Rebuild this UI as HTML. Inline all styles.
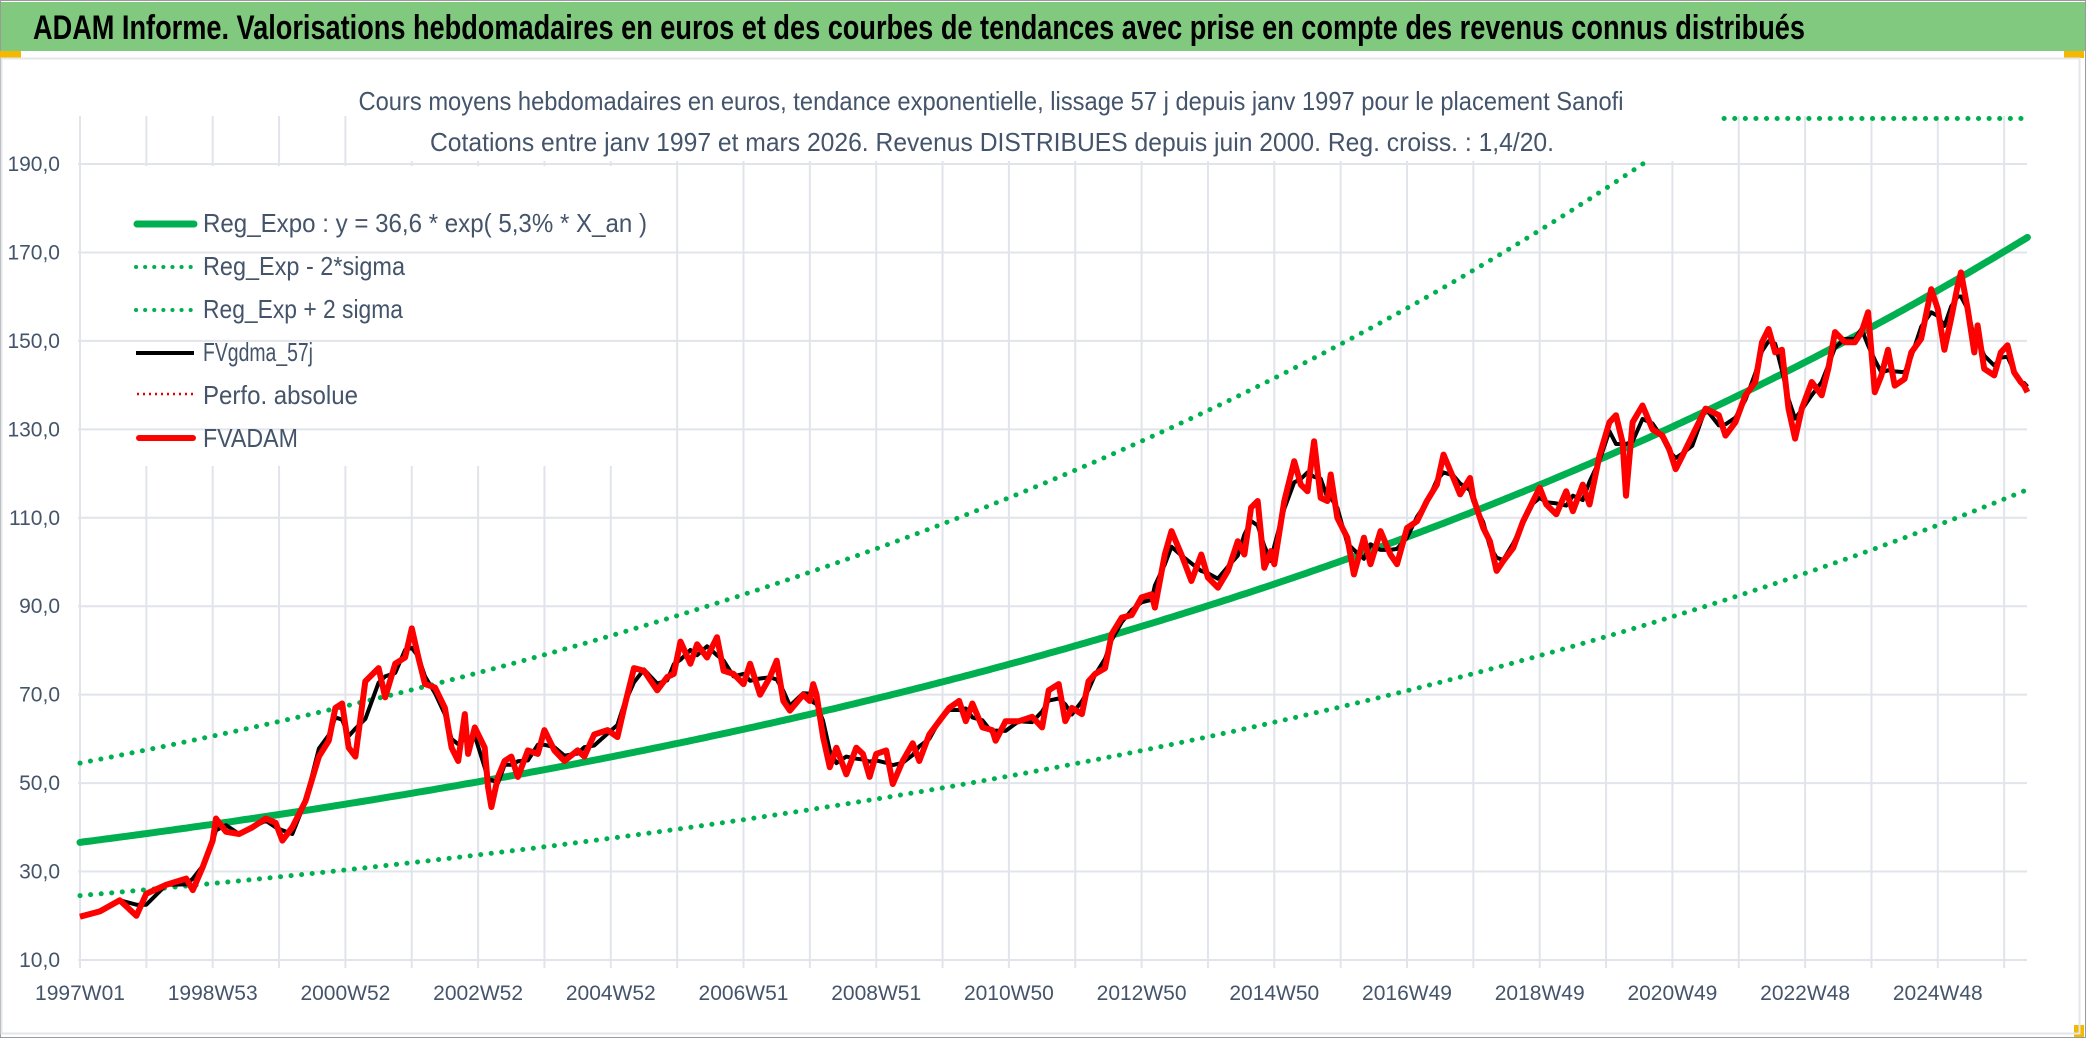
<!DOCTYPE html>
<html><head><meta charset="utf-8"><style>
html,body{margin:0;padding:0;background:#fff;}
svg{display:block;font-family:"Liberation Sans Narrow","Liberation Sans",sans-serif;}
</style></head><body>
<svg id="chart" width="2086" height="1038" viewBox="0 0 2086 1038">
<rect x="0" y="0" width="2086" height="1038" fill="#ffffff"/>
<rect x="0.5" y="0.5" width="2085" height="1037" fill="none" stroke="#9a9a9a"/>
<rect x="1" y="2" width="2084" height="49" fill="#80c97f"/>
<text x="33" y="39" font-size="34" font-weight="bold" fill="#000" textLength="1772" lengthAdjust="spacingAndGlyphs">ADAM Informe. Valorisations hebdomadaires en euros et des courbes de tendances avec prise en compte des revenus connus distribués</text>
<rect x="0" y="51" width="21" height="7" fill="#f5b800"/>
<rect x="2064" y="51" width="20" height="7" fill="#f5b800"/>
<rect x="2074" y="1025" width="10" height="12" fill="#f5b800"/>
<rect x="1.5" y="58.5" width="2078" height="975" fill="none" stroke="#e3e6ea" stroke-width="2"/>
<g id="grid"></g>
<g id="series"></g>
<rect x="364" y="64" width="1352" height="97" fill="#fff"/>
<text x="991" y="110" font-size="26" fill="#44546a" text-anchor="middle" textLength="1265" lengthAdjust="spacingAndGlyphs">Cours moyens hebdomadaires en euros, tendance exponentielle, lissage 57 j depuis janv 1997 pour le placement Sanofi</text>
<text x="992" y="151" font-size="26" fill="#44546a" text-anchor="middle" textLength="1124" lengthAdjust="spacingAndGlyphs">Cotations entre janv 1997 et mars 2026. Revenus DISTRIBUES depuis juin 2000. Reg. croiss. : 1,4/20.</text>
<g id="axes"></g>
<g id="legend">
 <g>
  <line x1="137" y1="224" x2="194" y2="224" stroke="#00b050" stroke-width="7" stroke-linecap="round"/>
  <text x="203" y="232" font-size="26" fill="#44546a" textLength="444" lengthAdjust="spacingAndGlyphs">Reg_Expo : y = 36,6 * exp( 5,3% *  X_an )</text>
 </g>
 <g>
  <line x1="136" y1="267" x2="194" y2="267" stroke="#00b050" stroke-width="4" stroke-dasharray="0.1 9" stroke-linecap="round"/>
  <text x="203" y="275" font-size="26" fill="#44546a" textLength="202" lengthAdjust="spacingAndGlyphs">Reg_Exp - 2*sigma</text>
 </g>
 <g>
  <line x1="136" y1="310" x2="194" y2="310" stroke="#00b050" stroke-width="4" stroke-dasharray="0.1 9" stroke-linecap="round"/>
  <text x="203" y="318" font-size="26" fill="#44546a" textLength="200" lengthAdjust="spacingAndGlyphs">Reg_Exp + 2 sigma</text>
 </g>
 <g>
  <line x1="136" y1="353" x2="194" y2="353" stroke="#000" stroke-width="4"/>
  <text x="203" y="361" font-size="26" fill="#44546a" textLength="110" lengthAdjust="spacingAndGlyphs">FVgdma_57j</text>
 </g>
 <g>
  <line x1="137" y1="394" x2="194" y2="394" stroke="#e00000" stroke-width="2.5" stroke-dasharray="2 4"/>
  <text x="203" y="404" font-size="26" fill="#44546a" textLength="155" lengthAdjust="spacingAndGlyphs">Perfo. absolue</text>
 </g>
 <g>
  <line x1="139" y1="438" x2="193" y2="438" stroke="#ff0000" stroke-width="6" stroke-linecap="round"/>
  <text x="203" y="447" font-size="26" fill="#44546a" textLength="95" lengthAdjust="spacingAndGlyphs">FVADAM</text>
 </g>
</g>
</svg>
<script>
// ---- data ----
const yTicks = [10,30,50,70,90,110,130,150,170,190];
const xTickLabels = ["1997W01","1998W53","2000W52","2002W52","2004W52","2006W51","2008W51","2010W50","2012W50","2014W50","2016W49","2018W49","2020W49","2022W48","2024W48"];
const regA = 36.6;
const regB = 0.053;
const sigmaFactor = 1.49;
const years = [1997.0,1997.3,1997.6,1997.85,1998.0,1998.3,1998.6,1998.7,1998.85,1999.0,1999.05,1999.2,1999.4,1999.6,1999.8,1999.95,2000.05,2000.2,2000.4,2000.6,2000.75,2000.85,2000.95,2001.05,2001.15,2001.3,2001.5,2001.6,2001.75,2001.9,2002.0,2002.1,2002.2,2002.35,2002.5,2002.6,2002.7,2002.8,2002.85,2002.95,2003.1,2003.15,2003.2,2003.3,2003.4,2003.5,2003.6,2003.75,2003.9,2004.0,2004.15,2004.3,2004.5,2004.6,2004.75,2004.95,2005.1,2005.2,2005.35,2005.5,2005.7,2005.85,2005.95,2006.05,2006.2,2006.3,2006.45,2006.6,2006.7,2006.85,2007.0,2007.1,2007.25,2007.4,2007.5,2007.6,2007.7,2007.9,2008.0,2008.05,2008.1,2008.2,2008.3,2008.4,2008.55,2008.7,2008.8,2008.9,2009.0,2009.15,2009.25,2009.4,2009.55,2009.65,2009.8,2009.95,2010.1,2010.25,2010.35,2010.45,2010.6,2010.75,2010.8,2010.95,2011.15,2011.35,2011.5,2011.6,2011.75,2011.85,2011.95,2012.1,2012.2,2012.3,2012.45,2012.55,2012.7,2012.85,2013.0,2013.15,2013.2,2013.35,2013.45,2013.6,2013.75,2013.9,2014.0,2014.15,2014.3,2014.45,2014.55,2014.65,2014.75,2014.85,2014.95,2015.0,2015.15,2015.3,2015.4,2015.5,2015.6,2015.7,2015.8,2015.85,2015.95,2016.1,2016.2,2016.35,2016.45,2016.6,2016.75,2016.85,2017.0,2017.15,2017.3,2017.45,2017.55,2017.7,2017.8,2017.95,2018.0,2018.15,2018.25,2018.35,2018.45,2018.6,2018.75,2018.9,2019.0,2019.1,2019.25,2019.4,2019.5,2019.65,2019.75,2019.9,2020.05,2020.15,2020.25,2020.3,2020.4,2020.55,2020.7,2020.85,2020.95,2021.05,2021.15,2021.3,2021.5,2021.7,2021.8,2021.95,2022.1,2022.25,2022.35,2022.45,2022.55,2022.65,2022.75,2022.85,2022.95,2023.1,2023.25,2023.35,2023.45,2023.6,2023.75,2023.85,2023.95,2024.05,2024.15,2024.25,2024.35,2024.5,2024.6,2024.75,2024.9,2025.0,2025.1,2025.2,2025.3,2025.35,2025.45,2025.55,2025.6,2025.7,2025.85,2025.95,2026.05,2026.15,2026.25,2026.3,2026.35];
const fvadam = [19.8,21,23.5,20,25,27,28.4,25.8,31,37,42,39,38.5,40,42,41,37,40,46,56,59.6,67,68,58,56,73,76,69.4,77,78.4,85,78.4,72.4,71.6,67,58,55,65.6,56.6,62.6,58,49,44.6,51.4,55,56,51.4,57.4,56.6,62,57.4,55,57.4,56,61,62,60.4,67,76,75.4,71,74,74.7,82,77,81.4,78.4,83,75.4,74.7,72.4,77,70,74,77.7,68.6,66.4,70,68.6,72.4,70,60.4,53.6,58,52,58,56.6,51.4,56.6,57.4,49.8,55,59,55,61,64,67,68.6,64,68,62.6,62,59.6,64,64,65,62.6,71,72.4,64,67,65.6,73,74.7,76,83.7,87.4,88,92,92.7,89.7,101.7,107,101.7,95.7,101.7,96.5,94.2,98,104.7,101.7,112.3,113.8,98.7,102.5,99.5,113.8,122.8,117.5,116,127.3,114.5,113.8,119.8,110,105.5,97.2,105.5,99.5,107,101.7,99.5,107.7,109.2,113.8,117.5,124.3,119,115.3,119,114.5,107.7,104.7,98,100.2,103.2,109.2,113.8,116.8,113,110.8,116,111.5,117.5,113,124,131.6,133.2,127,115,131.6,135.4,130,128.6,125.6,121,124,128.6,134.7,133.2,128.6,131.6,137.7,140.7,149.7,152.7,147.4,148,134.7,127.9,134.7,140.7,137.7,143.7,152,149.7,149.7,152,156.5,138.4,142.2,148,139.9,141.4,147.4,150.5,161.7,157.2,148,155,162.5,165.5,157.2,147.4,153.5,143.7,142.2,147.4,149,142.9,140.7,139.9,138.4];

// ---- axes ----
const X0 = 80, PX_PER_YEAR = 66.35, Y10 = 960, PX_PER_UNIT = 4.422, TOPY = 116, RIGHTX = 2027;
const xOf = yr => X0 + (yr - 1997) * PX_PER_YEAR;
const yOf = v => Y10 - (v - 10) * PX_PER_UNIT;
const NS = "http://www.w3.org/2000/svg";
function mk(tag, attrs, parent){ const e=document.createElementNS(NS,tag); for(const k in attrs) e.setAttribute(k,attrs[k]); parent.appendChild(e); return e; }

const grid = document.getElementById('grid');
for (let i = 0; i <= 29; i++) {
  const gx = xOf(1997 + i);
  const vl = mk('line',{x1:gx,y1:TOPY,x2:gx,y2:968,stroke:'#e1e4ea','stroke-width':2},grid);
  
  
}
const legendBg = mk('rect',{x:82,y:166,width:585,height:300,fill:'#fff'},grid);


yTicks.forEach(v=>{
  const hl = mk('line',{x1:78,y1:yOf(v),x2:RIGHTX,y2:yOf(v),stroke:'#e1e4ea','stroke-width':2},grid);
  
  
});

const axes = document.getElementById('axes');
yTicks.forEach(v=>{
  const t = mk('text',{x:60,y:yOf(v)+7,'font-size':21,fill:'#44546a','text-anchor':'end'},axes);
  t.textContent = v.toFixed(1).replace('.',',');
  
  
});
xTickLabels.forEach((lab,i)=>{
  const t = mk('text',{x:xOf(1997+2*i),y:1000,'font-size':21,fill:'#44546a','text-anchor':'middle'},axes);
  t.textContent = lab;
  
  
});

// ---- series ----
const ser = document.getElementById('series');
function regVal(yr){ return regA*Math.exp(regB*(yr-1997)); }
function ptsFn(fn){ const p=[]; for(let yr=1997; yr<=2026.35+1e-9; yr+=0.05){ const v=Math.min(fn(yr),200.3); p.push(xOf(yr).toFixed(1)+','+yOf(v).toFixed(1)); } return p.join(' '); }

const low = mk('polyline',{points:ptsFn(yr=>regVal(yr)/sigmaFactor),fill:'none',stroke:'#00b050','stroke-width':5,'stroke-dasharray':'0.1 10.5','stroke-linecap':'round'},ser);


const up = mk('polyline',{points:ptsFn(yr=>regVal(yr)*sigmaFactor),fill:'none',stroke:'#00b050','stroke-width':5,'stroke-dasharray':'0.1 10.5','stroke-linecap':'round'},ser);


const reg = mk('polyline',{points:ptsFn(regVal),fill:'none',stroke:'#00b050','stroke-width':7,'stroke-linecap':'round'},ser);



const redPts = years.map((yr,i)=>xOf(yr).toFixed(1)+','+yOf(fvadam[i]).toFixed(1)).join(' ');
// moving average (FVgdma) computed from FVADAM values
const ma = years.map((yr,i)=>{ let s=0,n=0; years.forEach((y2,j)=>{ if(Math.abs(y2-yr)<=0.16){ s+=fvadam[j]; n++; } }); return s/n; });
const blackPts = years.map((yr,i)=>xOf(yr).toFixed(1)+','+yOf(ma[i]).toFixed(1)).join(' ');
const blk = mk('polyline',{points:blackPts,fill:'none',stroke:'#000','stroke-width':4,'stroke-linejoin':'round'},ser);


const red = mk('polyline',{points:redPts,fill:'none',stroke:'#ff0000','stroke-width':6,'stroke-linejoin':'round'},ser);


</script>
</body></html>
